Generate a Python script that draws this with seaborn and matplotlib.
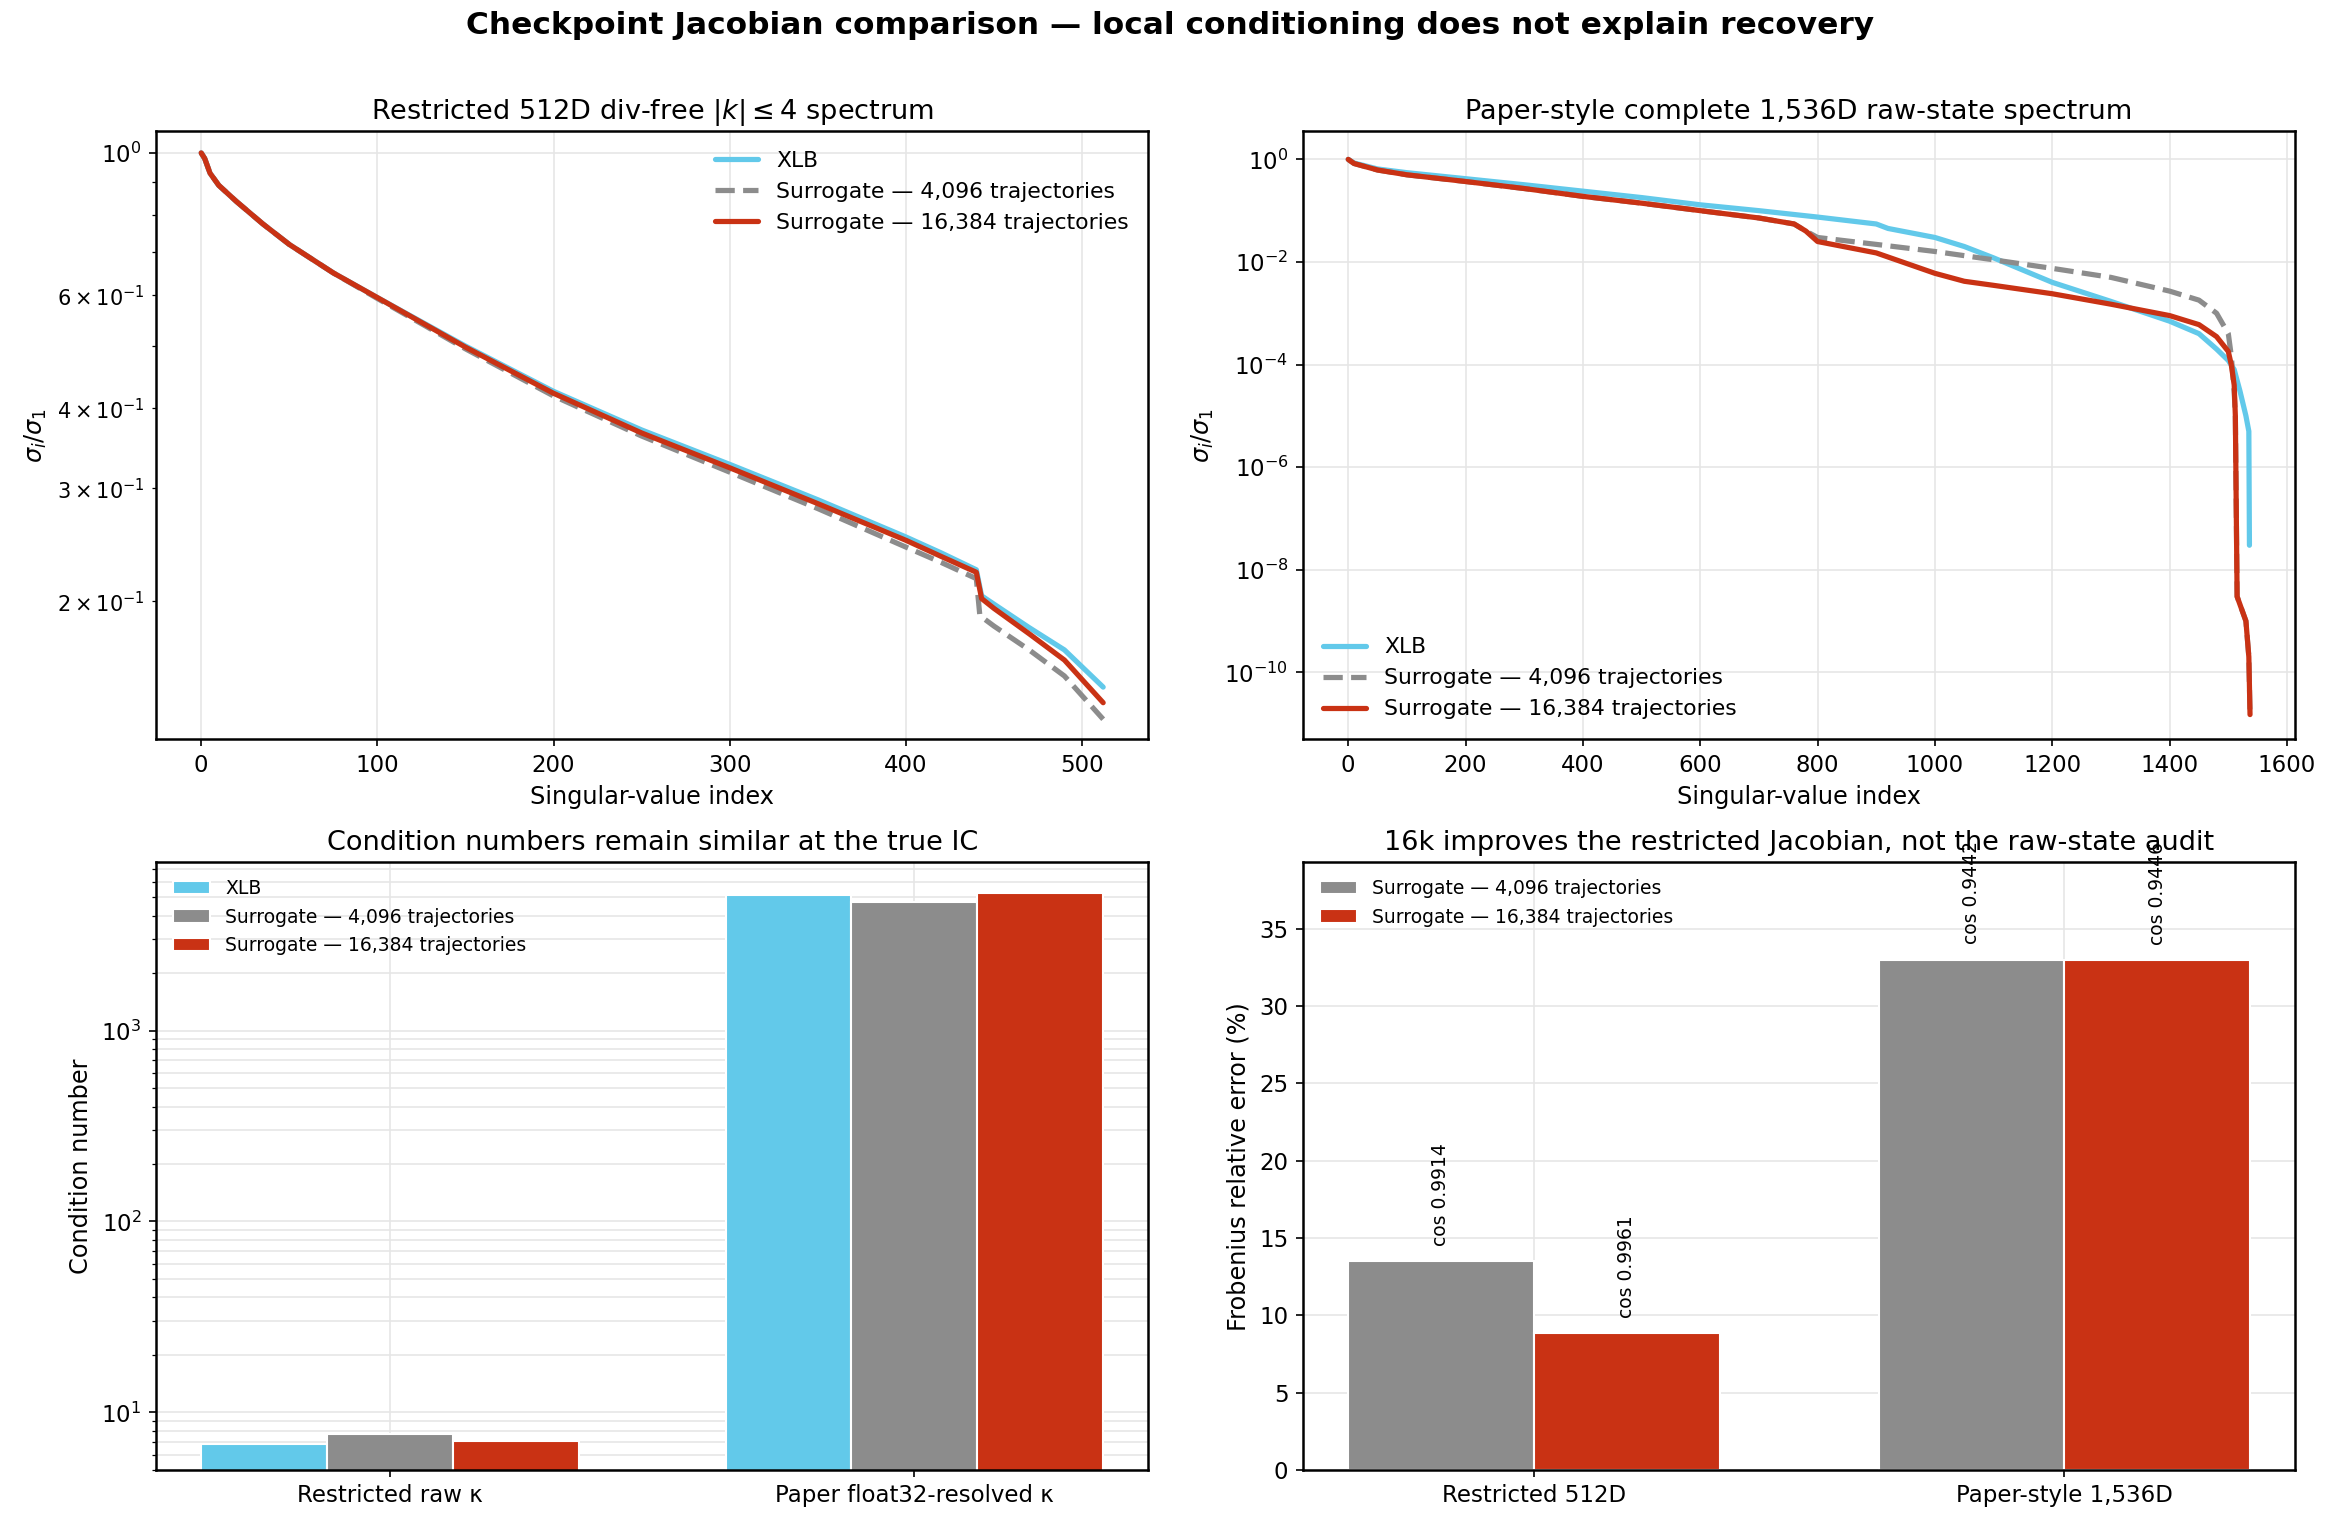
import numpy as np
import pandas as pd
import matplotlib
matplotlib.use("Agg")
import matplotlib.pyplot as plt
import seaborn as sns

sns.set_style("ticks")
plt.rcParams['font.family'] = ['DejaVu Sans']
plt.rcParams['axes.edgecolor'] = 'black'
plt.rcParams['xtick.color'] = 'black'
plt.rcParams['ytick.color'] = 'black'
plt.rcParams['text.color'] = 'black'
plt.rcParams['axes.labelcolor'] = 'black'

C_XLB = "#62c9ea"
C_S4 = "#8c8c8c"
C_S16 = "#c93214"

# --- restricted 512D spectrum ---
r_idx_xlb = [0, 2, 5, 10, 20, 35, 50, 75, 100, 150, 200, 250, 300, 350, 400, 420, 440, 443, 450, 470, 490, 512]
r_val_xlb = [1.0, 0.98, 0.93, 0.89, 0.84, 0.775, 0.72, 0.65, 0.595, 0.50, 0.425, 0.37, 0.327, 0.288, 0.252, 0.238, 0.224, 0.204, 0.198, 0.182, 0.168, 0.147]
r_idx_s4 = [0, 2, 5, 10, 20, 35, 50, 75, 100, 150, 200, 250, 300, 350, 400, 420, 440, 442, 450, 470, 490, 512]
r_val_s4 = [1.0, 0.98, 0.93, 0.89, 0.84, 0.775, 0.72, 0.65, 0.593, 0.495, 0.418, 0.362, 0.318, 0.279, 0.243, 0.230, 0.217, 0.190, 0.183, 0.168, 0.153, 0.131]
r_idx_s16 = [0, 2, 5, 10, 20, 35, 50, 75, 100, 150, 200, 250, 300, 350, 400, 420, 440, 443, 450, 470, 490, 512]
r_val_s16 = [1.0, 0.98, 0.93, 0.89, 0.84, 0.775, 0.72, 0.65, 0.595, 0.498, 0.422, 0.366, 0.323, 0.284, 0.249, 0.235, 0.222, 0.202, 0.195, 0.178, 0.162, 0.139]

# --- paper-style 1536D spectrum ---
p_idx_xlb = [0, 10, 50, 100, 200, 300, 400, 500, 600, 700, 800, 900, 920, 1000, 1050, 1100, 1200, 1300, 1400, 1450, 1480, 1500, 1510, 1520, 1530, 1535, 1536]
p_val_xlb = [1.0, 0.85, 0.65, 0.55, 0.42, 0.32, 0.24, 0.18, 0.13, 0.1, 0.075, 0.055, 0.045, 0.03, 0.02, 0.012, 0.004, 0.0017, 7e-4, 4e-4, 2e-4, 1.2e-4, 8e-5, 3e-5, 1e-5, 5e-6, 3e-8]
p_idx_s4 = [0, 10, 50, 100, 200, 300, 400, 500, 600, 700, 760, 780, 800, 900, 1000, 1100, 1200, 1300, 1400, 1450, 1480, 1500, 1505, 1510, 1512, 1515, 1530, 1535, 1537]
p_val_s4 = [1.0, 0.83, 0.62, 0.5, 0.37, 0.27, 0.19, 0.14, 0.1, 0.072, 0.055, 0.04, 0.03, 0.022, 0.016, 0.011, 0.0075, 0.005, 0.0027, 0.0018, 0.001, 4e-4, 1.5e-4, 3e-5, 1e-5, 3e-9, 1e-9, 2e-10, 1.5e-11]
p_idx_s16 = [0, 10, 50, 100, 200, 300, 400, 500, 600, 700, 760, 780, 800, 900, 1000, 1050, 1100, 1200, 1300, 1400, 1450, 1480, 1500, 1505, 1510, 1512, 1515, 1530, 1535, 1537]
p_val_s16 = [1.0, 0.83, 0.62, 0.5, 0.37, 0.27, 0.19, 0.14, 0.1, 0.072, 0.055, 0.04, 0.025, 0.015, 0.006, 0.0042, 0.0035, 0.0024, 0.0015, 9e-4, 6e-4, 3.5e-4, 1.8e-4, 1e-4, 4e-5, 1e-5, 3e-9, 1e-9, 2e-10, 1.5e-11]

# --- condition numbers ---
cond_groups = ["Restricted raw κ", "Paper float32-resolved κ"]
cond_xlb = [6.8, 5150]
cond_s4 = [7.7, 4700]
cond_s16 = [7.1, 5250]

# --- Frobenius errors ---
err_groups = ["Restricted 512D", "Paper-style 1,536D"]
err_s4 = [13.5, 33.0]
err_s16 = [8.85, 32.95]
cos_s4 = [0.9914, 0.9442]
cos_s16 = [0.9961, 0.9446]

L_XLB = "XLB"
L_S4 = "Surrogate — 4,096 trajectories"
L_S16 = "Surrogate — 16,384 trajectories"

fig, axes = plt.subplots(2, 2, figsize=(15.6, 10.2), dpi=150)
fig.suptitle("Checkpoint Jacobian comparison — local conditioning does not explain recovery",
             fontsize=15, fontweight="bold", y=0.993)

def style(ax):
    ax.grid(True, color="#e6e6e6", linewidth=0.8)
    ax.set_axisbelow(True)
    for s in ax.spines.values():
        s.set_visible(True)
        s.set_linewidth(1.2)
        s.set_color("black")

# panel 1
ax = axes[0, 0]
sns.lineplot(x=r_idx_xlb, y=r_val_xlb, ax=ax, color=C_XLB, lw=2.5, label=L_XLB)
sns.lineplot(x=r_idx_s4, y=r_val_s4, ax=ax, color=C_S4, lw=2.5, ls="--", label=L_S4)
sns.lineplot(x=r_idx_s16, y=r_val_s16, ax=ax, color=C_S16, lw=2.5, label=L_S16)
ax.set_yscale("log")
ax.set_ylim(0.122, 1.08)
ax.set_title(r"Restricted 512D div-free $|k|\leq 4$ spectrum", fontsize=13)
ax.set_xlabel("Singular-value index", fontsize=11.5)
ax.set_ylabel(r"$\sigma_i/\sigma_1$", fontsize=11.5)
ax.legend(frameon=False, fontsize=10.5, loc="upper right")
style(ax)

# panel 2
ax = axes[0, 1]
sns.lineplot(x=p_idx_xlb, y=p_val_xlb, ax=ax, color=C_XLB, lw=2.5, label=L_XLB)
sns.lineplot(x=p_idx_s4, y=p_val_s4, ax=ax, color=C_S4, lw=2.5, ls="--", label=L_S4)
sns.lineplot(x=p_idx_s16, y=p_val_s16, ax=ax, color=C_S16, lw=2.5, label=L_S16)
ax.set_yscale("log")
ax.set_ylim(5e-12, 3.5)
ax.set_xlim(-77, 1614)
ax.set_yticks([1e0, 1e-2, 1e-4, 1e-6, 1e-8, 1e-10])
ax.set_title("Paper-style complete 1,536D raw-state spectrum", fontsize=13)
ax.set_xlabel("Singular-value index", fontsize=11.5)
ax.set_ylabel(r"$\sigma_i/\sigma_1$", fontsize=11.5)
ax.legend(frameon=False, fontsize=10.5, loc="lower left")
style(ax)

# panel 3
ax = axes[1, 0]
df_c = pd.DataFrame({
    "group": cond_groups * 3,
    "value": cond_xlb + cond_s4 + cond_s16,
    "series": [L_XLB] * 2 + [L_S4] * 2 + [L_S16] * 2,
})
sns.barplot(data=df_c, x="group", y="value", hue="series", ax=ax, width=0.72,
            palette=[C_XLB, C_S4, C_S16], saturation=1)
ax.set_yscale("log")
ax.set_xlim(-0.446, 1.446)
ax.set_ylim(5.0, 7600)
ax.set_title("Condition numbers remain similar at the true IC", fontsize=13)
ax.set_xlabel("")
ax.set_ylabel("Condition number", fontsize=11.5)
ax.legend(frameon=False, fontsize=9, loc="upper left")
style(ax)
ax.grid(True, which="minor", axis="y", color="#e6e6e6", linewidth=0.8)

# panel 4
ax = axes[1, 1]
df_e = pd.DataFrame({
    "group": err_groups * 2,
    "value": err_s4 + err_s16,
    "series": [L_S4] * 2 + [L_S16] * 2,
})
sns.barplot(data=df_e, x="group", y="value", hue="series", ax=ax, width=0.7,
            palette=[C_S4, C_S16], saturation=1)
for i in range(2):
    ax.text(i - 0.175, err_s4[i] + 1.0, f"cos {cos_s4[i]:.4f}", rotation=90,
            ha="center", va="bottom", fontsize=9)
    ax.text(i + 0.175, err_s16[i] + 1.0, f"cos {cos_s16[i]:.4f}", rotation=90,
            ha="center", va="bottom", fontsize=9)
ax.set_xlim(-0.435, 1.435)
ax.set_ylim(0, 39.3)
ax.set_title("16k improves the restricted Jacobian, not the raw-state audit", fontsize=13)
ax.set_xlabel("")
ax.set_ylabel("Frobenius relative error (%)", fontsize=11.5)
ax.legend(frameon=False, fontsize=9, loc="upper left")
style(ax)

for a in axes.flat:
    a.tick_params(labelsize=11, colors="black")

fig.tight_layout(rect=[0, 0, 1, 0.985], h_pad=1.0, w_pad=2.0)
fig.savefig("out.png", dpi=150)
